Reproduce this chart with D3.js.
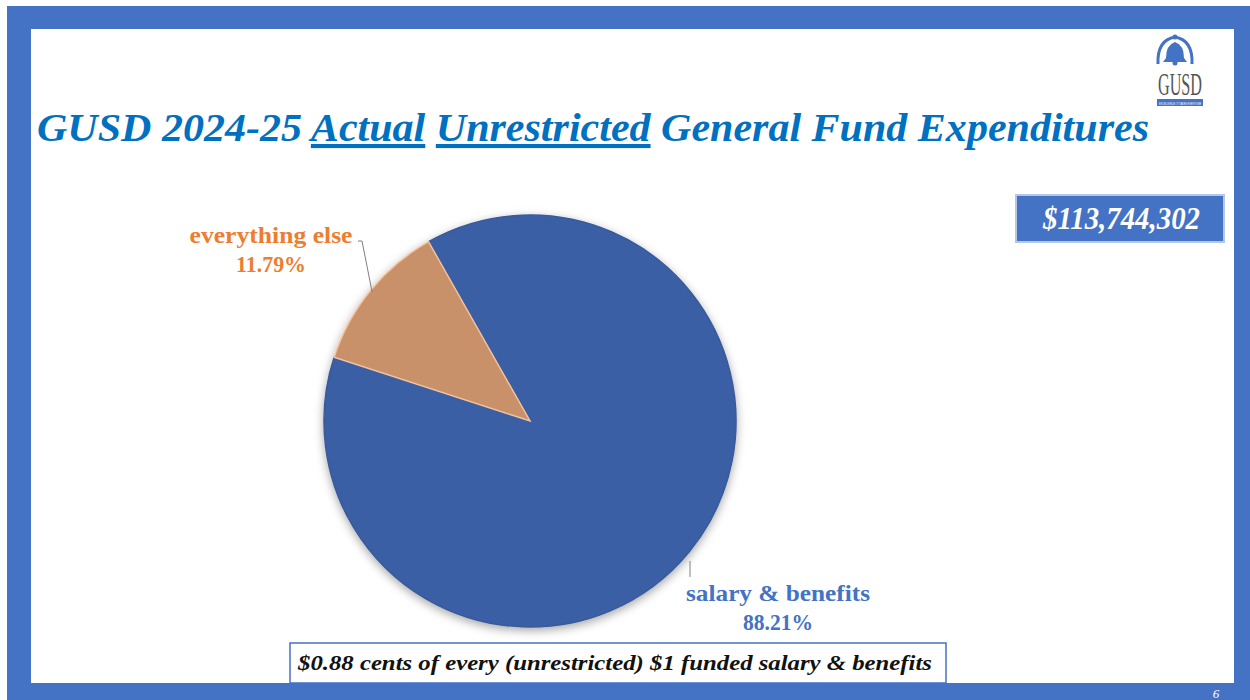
<!DOCTYPE html>
<html><head><meta charset="utf-8">
<script src="https://cdn.jsdelivr.net/npm/d3@7"></script>
<style>html,body{margin:0;padding:0;background:#fff;}svg{display:block;}</style>
</head><body>
<svg id="c" width="1250" height="700"></svg>
<script>
const categories = ["salary & benefits", "everything else"];
const values = [88.21, 11.79];
const labelTexts = ["88.21%", "11.79%"];
const totalLabel = "$113,744,302";
const titleParts = [["GUSD 2024-25 ", false], ["Actual", true], [" ", false], ["Unrestricted", true], [" General Fund Expenditures", false]];
const footnote = "$0.88 cents of every (unrestricted) $1 funded salary & benefits";
const pageNum = "6";

const svg = d3.select("#c");
const serif = "Liberation Serif, Times New Roman, serif";

// frame
svg.append("rect").attr("x", 7).attr("y", 6).attr("width", 1243).attr("height", 694).attr("fill", "#4472C4");
svg.append("rect").attr("x", 31).attr("y", 29).attr("width", 1203).attr("height", 654).attr("fill", "#fff");

const defs = svg.append("defs");
const f = defs.append("filter").attr("id", "sh").attr("x", "-20%").attr("y", "-20%").attr("width", "140%").attr("height", "140%");
f.append("feDropShadow").attr("dx", 0).attr("dy", 3).attr("stdDeviation", 5).attr("flood-color", "#000").attr("flood-opacity", 0.35);

// title
const title = svg.append("text").attr("x", 37).attr("y", 141)
  .style("font-family", serif).style("font-weight", "bold").style("font-style", "italic")
  .style("font-size", "41px").attr("fill", "#0070C0")
  .attr("textLength", 1112).attr("lengthAdjust", "spacingAndGlyphs").attr("xml:space", "preserve");
titleParts.forEach(([t, u]) => {
  title.append("tspan").text(t).style("text-decoration", u ? "underline" : "none");
});

// logo
const logo = svg.append("g");
logo.append("path").attr("d", "M1158,64 Q1157,40 1175,37 Q1193,40 1192,64").attr("fill", "none").attr("stroke", "#4472C4").attr("stroke-width", 3);
logo.append("path").attr("d", "M1163,62 L1166,58 Q1166,45 1175,42 Q1184,45 1184,58 L1187,62 Z").attr("fill", "#4472C4");
logo.append("circle").attr("cx", 1175).attr("cy", 63).attr("r", 2.5).attr("fill", "#4472C4");
logo.append("circle").attr("cx", 1175).attr("cy", 37).attr("r", 2.5).attr("fill", "#4472C4");
logo.append("text").attr("transform", "translate(1158,95) scale(0.5,1.25)").style("font-family", serif).style("font-size", "26px")
  .attr("fill", "#555").attr("textLength", 88).attr("lengthAdjust", "spacingAndGlyphs").text("GUSD");
logo.append("rect").attr("x", 1157).attr("y", 99).attr("width", 46).attr("height", 7).attr("fill", "#4472C4");
logo.append("text").attr("x", 1159).attr("y", 104.5).style("font-family", "Liberation Sans, sans-serif")
  .style("font-size", "3.5px").attr("fill", "#fff").attr("textLength", 42).attr("lengthAdjust", "spacingAndGlyphs").text("EXCELLENCE. IT TAKES EVERYONE");

// total box
svg.append("rect").attr("x", 1016).attr("y", 195).attr("width", 208).attr("height", 47)
  .attr("fill", "#4472C4").attr("stroke", "#B4C7E7").attr("stroke-width", 2);
svg.append("text").attr("x", 1043).attr("y", 229)
  .style("font-family", serif).style("font-weight", "bold").style("font-style", "italic")
  .style("font-size", "31px").attr("fill", "#fff").attr("textLength", 157).attr("lengthAdjust", "spacingAndGlyphs").text(totalLabel);

// pie
const cx = 530, cy = 421, R = 206;
const start = -29.5 * Math.PI / 180;
const pie = d3.pie().sort(null).value(d => d).startAngle(start).endAngle(start + 2 * Math.PI);
const arcs = pie(values);
const arc = d3.arc().innerRadius(0).outerRadius(R);
const colors = ["#3A5EA5", "#C9916A"];
const strokes = ["#3A5A9A", "#F6C29A"];
const g = svg.append("g").attr("transform", `translate(${cx},${cy})`);
g.append("g").attr("filter", "url(#sh)").selectAll("path").data(arcs).join("path")
  .attr("d", arc).attr("fill", (d, i) => colors[i]).attr("stroke", (d, i) => strokes[i]).attr("stroke-width", 1.5);

// labels
const labColors = ["#4472C4", "#ED7D31"];
const labPos = [[778, 601], [271, 243]];
const labW = [184, 163];
const pctW = [70, 70];
const pctX = [778, 271];
categories.forEach((c, i) => {
  svg.append("text").attr("x", labPos[i][0] - labW[i] / 2).attr("y", labPos[i][1])
    .style("font-family", serif).style("font-weight", "bold").style("font-size", "23px").attr("fill", labColors[i])
    .attr("textLength", labW[i]).attr("lengthAdjust", "spacingAndGlyphs").text(c);
  svg.append("text").attr("x", pctX[i] - pctW[i] / 2).attr("y", labPos[i][1] + 29)
    .style("font-family", serif).style("font-weight", "bold").style("font-size", "23px").attr("fill", labColors[i])
    .attr("textLength", pctW[i]).attr("lengthAdjust", "spacingAndGlyphs").text(labelTexts[i]);
});
// leader lines
const mid1 = arcs[1];
const a1 = (mid1.startAngle + mid1.endAngle) / 2;
const p1 = [cx + Math.sin(a1) * (R - 2), cy - Math.cos(a1) * (R - 2)];
svg.append("polyline").attr("points", `358,241 362,241 ${p1[0]},${p1[1]}`).attr("fill", "none").attr("stroke", "#808080").attr("stroke-width", 1);
svg.append("line").attr("x1", 690).attr("y1", 561).attr("x2", 690).attr("y2", 577).attr("stroke", "#808080").attr("stroke-width", 1);

// footnote box
svg.append("rect").attr("x", 290).attr("y", 643).attr("width", 656).attr("height", 40)
  .attr("fill", "#fff").attr("stroke", "#4472C4").attr("stroke-width", 1.5);
svg.append("text").attr("x", 298).attr("y", 670).style("font-family", serif).style("font-style", "italic").style("font-weight", "bold")
  .style("font-size", "20px").attr("fill", "#111").attr("textLength", 634).attr("lengthAdjust", "spacingAndGlyphs").text(footnote);

svg.append("text").attr("x", 1216).attr("y", 698).attr("text-anchor", "middle").style("font-family", serif).style("font-style", "italic")
  .style("font-size", "13px").attr("fill", "#fff").text(pageNum);
</script>
</body></html>
